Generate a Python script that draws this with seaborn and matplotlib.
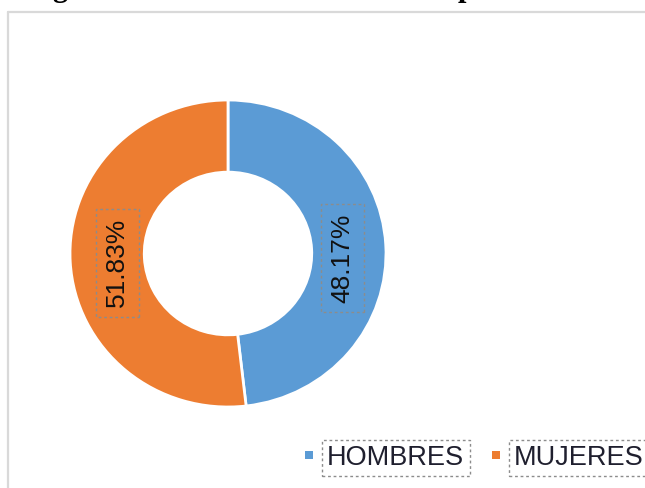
import matplotlib
matplotlib.use("Agg")
import matplotlib.pyplot as plt
from matplotlib.lines import Line2D
import seaborn as sns

sns.set_theme(style="white")
plt.rcParams['font.family'] = ['Liberation Sans', 'DejaVu Sans']

categories = ["HOMBRES", "MUJERES"]
values = [48.17, 51.83]
labels = ["48.17%", "51.83%"]

colors = ["#5B9BD5", "#ED7D31"]

W, H = 645, 488
fig = plt.figure(figsize=(W / 100, H / 100), dpi=100)

# chart border (light gray frame; right and bottom sides lie outside the image)
fig.add_artist(Line2D([8 / W, 1.0], [1 - 12 / H, 1 - 12 / H], transform=fig.transFigure,
                      color="#d9d9d9", linewidth=1.6))
fig.add_artist(Line2D([8 / W, 8 / W], [0.0, 1 - 12 / H], transform=fig.transFigure,
                      color="#d9d9d9", linewidth=1.6))

# remnants of a cut-off title
fig.text(52 / W, 1 + 4 / H, "g", fontsize=22, fontweight="bold", family="Liberation Serif",
         va="baseline", ha="left", color="black")
fig.text(458 / W, 1 + 4 / H, "p", fontsize=22, fontweight="bold", family="Liberation Serif",
         va="baseline", ha="left", color="black")

# donut axes: center (228, 253.5), radius x 158, y 153.5
cx, cy, rx, ry = 228, 253.5, 158, 153.5
ax = fig.add_axes([(cx - rx) / W, 1 - (cy + ry) / H, 2 * rx / W, 2 * ry / H])
wedges, _ = ax.pie(values, colors=colors, startangle=90, counterclock=False, radius=1.0,
                   wedgeprops=dict(width=0.47, edgecolor="white", linewidth=2))
ax.set_aspect("auto")
ax.set_xlim(-1, 1)
ax.set_ylim(-1, 1)
ax.axis("off")

# data labels inside ring, rotated
label_pos = [(0.725, -0.03), (-0.70, -0.06)]
for (x, y), lab in zip(label_pos, labels):
    ax.text(x, y, lab, rotation=90, ha="center", va="center", fontsize=19,
            color="#111111",
            bbox=dict(boxstyle="square,pad=0.35", facecolor="none",
                      edgecolor="#8c8c8c", linestyle=(0, (2, 2)), linewidth=1))

# legend
legend_items = [(309, categories[0]), (496, categories[1])]
for (mx, name), c in zip(legend_items, colors):
    fig.patches.append(plt.Rectangle(((mx - 4) / W, 1 - 459 / H), 8 / W, 8 / H,
                                     transform=fig.transFigure, facecolor=c, edgecolor="none"))
    fig.text((mx + 18) / W, 1 - 458 / H, name, fontsize=19.5, color="#1f1f2e",
             ha="left", va="center",
             bbox=dict(boxstyle="square,pad=0.2", facecolor="none",
                       edgecolor="#8c8c8c", linestyle=(0, (2, 2)), linewidth=1))

fig.savefig("out.png", dpi=100)
